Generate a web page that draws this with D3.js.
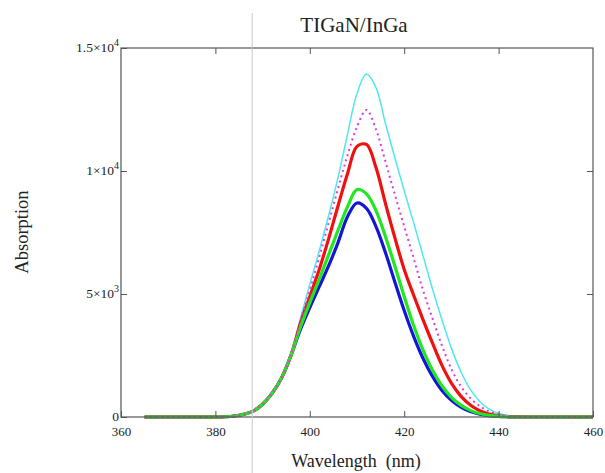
<!DOCTYPE html>
<html>
<head>
<meta charset="utf-8">
<script src="https://cdn.jsdelivr.net/npm/d3@7"></script>
<style>
  body { margin: 0; background: #fff; }
  svg { display: block; }
  text { font-family: "Liberation Serif", "DejaVu Serif", serif; fill: #222; }
</style>
</head>
<body>
<svg></svg>
<script>
// set the dimensions and margins of the graph
var margin = {top: 48, right: 12, bottom: 56, left: 121},
    width = 605 - margin.left - margin.right,
    height = 473 - margin.top - margin.bottom;

// wavelengths (nm) where the curves were read
var wavelength = [365, 370, 375, 380, 382, 384, 386, 388, 390, 392, 394, 396, 398, 400,
    402, 404, 406, 408, 410, 412, 414, 416, 418, 420, 422, 424, 426, 428, 430,
    432, 434, 436, 438, 440, 442, 444, 446, 450, 455, 460];

var blue = [0, 0, 0, 0, 10, 40, 110, 240, 520, 960, 1580, 2500, 3550, 4450,
    5300, 6150, 7100, 8150, 8700, 8480, 7750, 6700, 5500, 4330, 3280, 2380, 1650, 1080, 680,
    400, 220, 115, 55, 22, 8, 0, 0, 0, 0, 0];
var green = [0, 0, 0, 0, 10, 40, 110, 240, 520, 960, 1580, 2500, 3650, 4650,
    5600, 6600, 7600, 8550, 9250, 9070, 8400, 7350, 6150, 4900, 3720, 2720, 1900, 1270, 800,
    480, 270, 140, 65, 28, 10, 0, 0, 0, 0, 0];
var red = [0, 0, 0, 0, 10, 40, 110, 240, 520, 960, 1580, 2500, 3800, 4900,
    6000, 7250, 8600, 9900, 11000, 11080, 10150, 8700, 7300, 6000, 4950, 3950, 3000, 2100, 1380,
    850, 490, 260, 120, 50, 18, 5, 0, 0, 0, 0];
var magenta = [0, 0, 0, 0, 10, 40, 110, 240, 520, 960, 1580, 2500, 3900, 5150,
    6500, 7900, 9300, 10650, 11800, 12480, 11700, 10400, 9050, 7750, 6450, 5150, 4000, 2900, 1950,
    1250, 770, 440, 230, 105, 42, 14, 0, 0, 0, 0];
var cyan = [0, 0, 0, 0, 10, 40, 110, 240, 520, 960, 1580, 2500, 4000, 5400,
    6750, 8200, 9750, 11500, 13150, 13940, 13400, 11950, 10550, 9200, 7900, 6550, 5200, 3950, 2800,
    1850, 1120, 630, 320, 150, 60, 20, 0, 0, 0, 0];

var xTicks = [360, 380, 400, 420, 440, 460];
var yTicks = [0, 5000, 10000, 15000];
var yTickLabels = [["0", ""], ["5×10", "3"], ["1×10", "4"], ["1.5×10", "4"]];
var cursorX = 387.8;

var series = [
    {name: "cyan", values: cyan, color: "#4fe8ec", w: 1.5, dash: null},
    {name: "blue", values: blue, color: "#1515d8", w: 3.2, dash: null},
    {name: "red", values: red, color: "#f01010", w: 3.2, dash: null},
    {name: "green", values: green, color: "#1fe81f", w: 3.2, dash: null},
    {name: "magenta", values: magenta, color: "#dc3ce0", w: 2, dash: "2,3.5"}
];

var svg = d3.select("svg")
    .attr("width", width + margin.left + margin.right)
    .attr("height", height + margin.top + margin.bottom);

var g = svg.append("g")
    .attr("transform", "translate(" + margin.left + "," + margin.top + ")");

var x = d3.scaleLinear().domain([360, 460]).range([0, width]);
var y = d3.scaleLinear().domain([0, 15000]).range([height, 0]);

// cursor line
svg.append("line")
    .attr("x1", margin.left + x(cursorX)).attr("x2", margin.left + x(cursorX))
    .attr("y1", 13).attr("y2", 473)
    .attr("stroke", "#c8c8c8").attr("stroke-width", 1);

// curves
var line = d3.line()
    .x(function(d) { return x(d[0]); })
    .y(function(d) { return y(d[1]); })
    .curve(d3.curveCatmullRom.alpha(0.5));

series.forEach(function(s) {
    g.append("path")
        .datum(wavelength.map(function(w, i) { return [w, s.values[i]]; }))
        .attr("fill", "none")
        .attr("stroke", s.color)
        .attr("stroke-width", s.w)
        .attr("stroke-dasharray", s.dash)
        .attr("stroke-linejoin", "round")
        .attr("d", line);
});

// frame
var axisColor = "#555";
g.append("rect")
    .attr("width", width).attr("height", height)
    .attr("fill", "none").attr("stroke", axisColor).attr("stroke-width", 1.2);

// ticks inside the frame
var axisB = d3.axisBottom(x).tickValues(xTicks).tickSizeInner(-6).tickSizeOuter(0).tickPadding(10)
    .tickFormat(d3.format("d"));
var gx = g.append("g").attr("transform", "translate(0," + height + ")").call(axisB);
gx.select(".domain").remove();
gx.selectAll("line").attr("stroke", axisColor);
gx.selectAll("text").style("font-size", "13px").style("font-family", "Liberation Serif").attr("fill", "#222");

var axisT = d3.axisTop(x).tickValues(xTicks.slice(1, -1)).tickSizeInner(-6).tickSizeOuter(0).tickFormat("");
var gt = g.append("g").call(axisT);
gt.select(".domain").remove();
gt.selectAll("line").attr("stroke", axisColor);

var axisL = d3.axisLeft(y).tickValues(yTicks).tickSizeInner(-6).tickSizeOuter(0).tickFormat("");
var gl = g.append("g").call(axisL);
gl.select(".domain").remove();
gl.selectAll("line").attr("stroke", axisColor);

var axisR = d3.axisRight(y).tickValues(yTicks.slice(1, -1)).tickSizeInner(-6).tickSizeOuter(0).tickFormat("");
var gr = g.append("g").attr("transform", "translate(" + width + ",0)").call(axisR);
gr.select(".domain").remove();
gr.selectAll("line").attr("stroke", axisColor);

// y tick labels with exponents
yTicks.forEach(function(v, i) {
    var t = g.append("text")
        .attr("x", -2)
        .attr("y", y(v) + 4)
        .attr("text-anchor", "end")
        .style("font-size", "13.5px");
    t.append("tspan").text(yTickLabels[i][0]);
    if (yTickLabels[i][1]) {
        t.append("tspan").attr("dy", -6).style("font-size", "10px").text(yTickLabels[i][1]);
    }
});

// title and axis labels
svg.append("text")
    .attr("x", 354).attr("y", 32)
    .attr("text-anchor", "middle")
    .style("font-size", "21px")
    .text("TIGaN/InGa");

svg.append("text")
    .attr("transform", "translate(28,232) rotate(-90)")
    .attr("text-anchor", "middle")
    .style("font-size", "18.5px")
    .text("Absorption");

svg.append("text")
    .attr("x", 356).attr("y", 467)
    .attr("text-anchor", "middle")
    .style("font-size", "18px")
    .style("white-space", "pre")
    .text("Wavelength  (nm)");
</script>
</body>
</html>
